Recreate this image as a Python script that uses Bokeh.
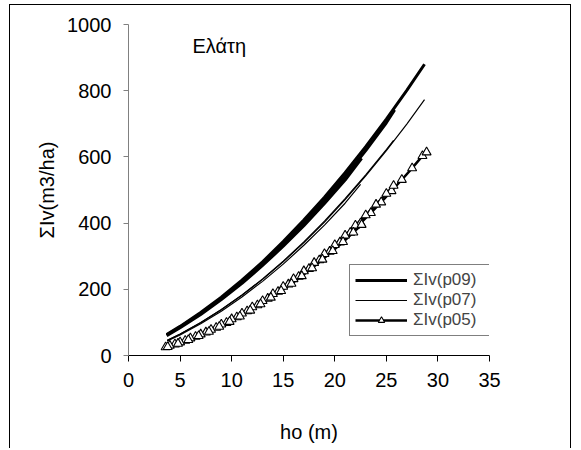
from bokeh.plotting import figure
from bokeh.models import Legend, LegendItem, Label, FixedTicker
from bokeh.embed import file_html
from bokeh.resources import INLINE

# ---- data ----
x_ticks = [0, 5, 10, 15, 20, 25, 30, 35]
y_ticks = [0, 200, 400, 600, 800, 1000]

# Sum Iv p09 (thick lines)
p09a_x = [3.7, 5, 7, 9, 11, 13, 15, 17, 19, 21, 23, 25, 27, 28.7]
p09a_y = [63, 88, 130, 176, 228, 283, 344, 409, 478, 552, 631, 714, 802, 880]
p09b_x = [3.7, 5, 7, 9, 11, 13, 15, 17, 19, 21, 23, 25, 25.8]
p09b_y = [62, 86, 127, 172, 222, 277, 336, 400, 468, 541, 619, 703, 742]
p09c_x = [3.7, 5, 7, 9, 11, 13, 15, 17, 19, 21, 22.6]
p09c_y = [60, 84, 124, 169, 218, 272, 330, 392, 459, 530, 596]

# Sum Iv p07 (thin lines)
p07a_x = [3.75, 5, 7, 9, 11, 13, 15, 17, 19, 21, 23, 25, 27, 28.7]
p07a_y = [45, 64, 99, 138, 182, 230, 283, 341, 403, 471, 543, 619, 700, 773]
p07b_x = [3.75, 5, 7, 9, 11, 13, 15, 17, 19, 21, 22.5]
p07b_y = [44, 62, 96, 134, 177, 224, 276, 333, 394, 460, 517]
p07c_x = [3.75, 5, 7, 9, 11, 13, 15, 17, 19, 21, 23, 25, 25.7]
p07c_y = [46, 65, 100, 139, 183, 231, 285, 343, 406, 474, 546, 622, 650]

# Sum Iv p05 (lines with triangles)
p05a_x = [3.6, 4.5, 5.5, 6.5, 7.5, 8.5, 9.5, 10.5, 11.5, 12.5, 13.5, 14.5, 15.5,
          16.5, 17.5, 18.5, 19.5, 20.5, 21.5, 22.5, 23.5, 24.5, 25.5, 26.5, 27.5,
          28.5, 28.9]
p05a_y = [25, 34, 45, 57, 70, 84, 99, 116, 134, 152, 172, 193, 215, 238, 262,
          288, 314, 342, 371, 400, 431, 463, 497, 531, 566, 603, 614]
p05b_x = [4, 5, 6, 7, 8, 9, 10, 11, 12, 13, 14, 15, 16, 17, 18, 19, 20, 21, 22,
          23, 24, 25, 25.7]
p05b_y = [30, 40, 52, 64, 78, 94, 110, 127, 146, 165, 186, 208, 231, 255, 280,
          307, 334, 363, 393, 424, 456, 489, 513]
p05c_x = [3.8, 4.8, 5.8, 6.8, 7.8, 8.8, 9.8, 10.8, 11.8, 12.8, 13.8, 14.8, 15.8,
          16.8, 17.8, 18.8, 19.8, 20.8, 21.8, 22.6]
p05c_y = [26, 36, 47, 59, 72, 87, 102, 118, 136, 155, 175, 195, 217, 240, 264,
          290, 316, 343, 372, 395]

FONT = "Liberation Sans"

p = figure(width=562, height=444, x_range=(0, 35), y_range=(0, 1000),
           output_backend="svg", toolbar_location=None,
           min_border_left=118, min_border_right=83,
           min_border_top=19, min_border_bottom=94)
p.styles = {"margin-left": "9px", "margin-top": "4px",
            "border-left": "1px solid black", "border-top": "1px solid black",
            "border-right": "1px solid black"}

p.xgrid.visible = False
p.ygrid.visible = False
p.outline_line_color = None
p.background_fill_color = "white"

# curves
r09 = p.line(p09a_x, p09a_y, line_color="black", line_width=3)
p.line(p09b_x, p09b_y, line_color="black", line_width=3)
p.line(p09c_x, p09c_y, line_color="black", line_width=3)

r07 = p.line(p07a_x, p07a_y, line_color="black", line_width=1.2)
p.line(p07b_x, p07b_y, line_color="black", line_width=1.2)
p.line(p07c_x, p07c_y, line_color="black", line_width=1.2)

r05l = p.line(p05a_x, p05a_y, line_color="black", line_width=2.5)
p.line(p05b_x, p05b_y, line_color="black", line_width=2.5)
p.line(p05c_x, p05c_y, line_color="black", line_width=2.5)
r05m = p.scatter(p05a_x, p05a_y, marker="triangle", size=9,
                 fill_color="white", line_color="black", line_width=1.1)
p.scatter(p05b_x, p05b_y, marker="triangle", size=9,
          fill_color="white", line_color="black", line_width=1.1)
p.scatter(p05c_x, p05c_y, marker="triangle", size=9,
          fill_color="white", line_color="black", line_width=1.1)

# axes
p.xaxis.ticker = FixedTicker(ticks=x_ticks)
p.yaxis.ticker = FixedTicker(ticks=y_ticks)
for ax in (p.xaxis[0], p.yaxis[0]):
    ax.minor_tick_line_color = None
    ax.major_tick_in = 0
    ax.major_label_text_font = FONT
    ax.major_label_text_font_size = "20px"
    ax.major_label_text_color = "black"
    ax.axis_label_text_font = FONT
    ax.axis_label_text_font_size = "20px"
    ax.axis_label_text_font_style = "normal"
    ax.axis_label_text_color = "black"

p.xaxis.major_tick_out = 6
p.xaxis.axis_line_color = "black"
p.xaxis.major_tick_line_color = "black"
p.xaxis.major_label_standoff = 11
p.xaxis.axis_label = "ho (m)"
p.xaxis.axis_label_standoff = 31

p.yaxis.major_tick_out = 5
p.yaxis.axis_line_color = "#808080"
p.yaxis.major_tick_line_color = "#808080"
p.yaxis.major_label_standoff = 12
p.yaxis.axis_label = "ΣIv(m3/ha)"
p.yaxis.axis_label_standoff = 6

# title inside plot
p.add_layout(Label(x=6.2, y=935, text="Ελάτη", text_font=FONT,
                   text_font_size="20px", text_color="black",
                   text_baseline="alphabetic"))

legend = Legend(items=[
    LegendItem(label="ΣIv(p09)", renderers=[r09]),
    LegendItem(label="ΣIv(p07)", renderers=[r07]),
    LegendItem(label="ΣIv(p05)", renderers=[r05l, r05m]),
], location=(221, 19))
legend.label_text_font = FONT
legend.label_text_font_size = "17px"
legend.label_height = 16
legend.glyph_height = 16
legend.glyph_width = 52
legend.label_width = 75
legend.spacing = 0
legend.padding = 5
legend.margin = 0
legend.label_standoff = 6
legend.border_line_color = "black"
legend.border_line_width = 1
legend.background_fill_alpha = 1
p.add_layout(legend, "center")

open("out.html", "w").write(file_html(p, INLINE))
